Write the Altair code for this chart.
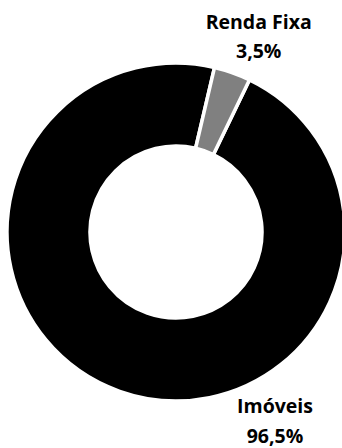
import math
import altair as alt
import pandas as pd

categories = ["Imóveis", "Renda Fixa"]
values = [96.5, 3.5]
labels = ["96,5%", "3,5%"]
colors = ["#000000", "#808080"]

df = pd.DataFrame({"cat": categories, "val": values, "pct": labels, "order": [0, 1]})
df["label"] = [[c, p] for c, p in zip(categories, labels)]

start = 0.45
theta_scale = alt.Scale(range=[start, start + 2 * math.pi])

arcs = alt.Chart(df).mark_arc(outerRadius=169, innerRadius=86, stroke="white", strokeWidth=3.5).encode(
    theta=alt.Theta("val:Q", stack=True, scale=theta_scale),
    order=alt.Order("order:Q"),
    color=alt.Color("cat:N", scale=alt.Scale(domain=categories, range=colors), legend=None),
)

text_base = alt.Chart(df).transform_window(
    cum="sum(val)", sort=[alt.SortField("order")], frame=[None, 0]
).transform_calculate(
    mid="datum.cum - datum.val / 2"
).encode(
    theta=alt.Theta("mid:Q", stack=None, scale=theta_scale),
    text="label",
)

font = "Open Sans"
txt_rf = text_base.mark_text(radius=215, dx=11, font=font, fontWeight="bold", fontSize=19.5,
                             lineHeight=29, color="black", baseline="alphabetic").transform_filter(
    alt.datum.cat == "Renda Fixa")

txt_im = text_base.mark_text(radius=0, dx=99, dy=181, font=font, fontWeight="bold", fontSize=19.5,
                             lineHeight=30, color="black", baseline="alphabetic").transform_filter(
    alt.datum.cat == "Imóveis")

chart = alt.layer(arcs, txt_rf, txt_im).properties(
    width=332, height=416,
    padding={"left": 10, "top": 24, "right": 0, "bottom": 8},
    autosize=alt.AutoSizeParams(type="none"),
).configure_view(stroke=None)

chart.save("out.html", embed_options={"renderer": "svg", "actions": False})
